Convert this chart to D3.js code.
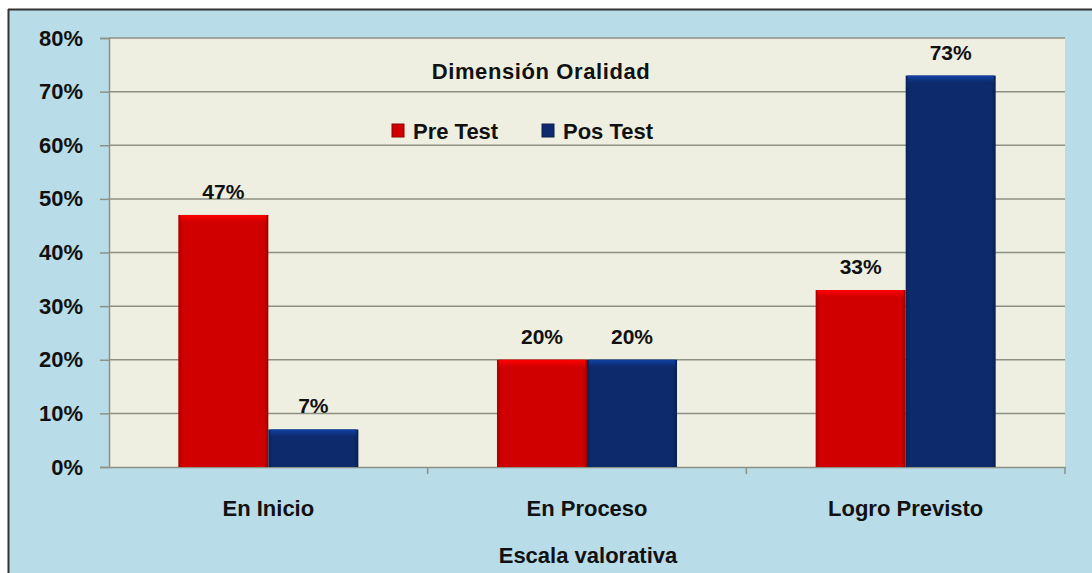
<!DOCTYPE html>
<html lang="es">
<head>
    <meta charset="UTF-8">
    <title>Dimensión Oralidad</title>
    <script src="https://d3js.org/d3.v7.min.js"></script>
    <style>
        body {
            margin: 0;
            background: #fff;
            font-family: 'Liberation Sans', Arial, sans-serif;
            overflow: hidden;
        }
        text { font-weight: bold; fill: #111; }
    </style>
</head>
<body>
    <script>
        const categories = ["En Inicio", "En Proceso", "Logro Previsto"];
        const series = ["Pre Test", "Pos Test"];
        const preTest = [0.47, 0.20, 0.33];
        const posTest = [0.07, 0.20, 0.73];
        const yTicks = [0, 0.1, 0.2, 0.3, 0.4, 0.5, 0.6, 0.7, 0.8];
        const colors = ["#d10000", "#0c2a6c"];

        const width = 1092;
        const height = 573;
        const plot = { left: 109, right: 1065, top: 38, bottom: 467 };
        const font = "'Liberation Sans', Arial, sans-serif";

        const svg = d3.select("body")
            .append("svg")
            .attr("width", width)
            .attr("height", height);

        const defs = svg.append("defs");
        colors.forEach((c, i) => {
            const g = defs.append("linearGradient")
                .attr("id", "top" + i)
                .attr("x1", 0).attr("y1", 0).attr("x2", 0).attr("y2", 1);
            g.append("stop").attr("offset", "0%").attr("stop-color", d3.color(c).brighter(1.2));
            g.append("stop").attr("offset", "100%").attr("stop-color", c);
            const s = defs.append("linearGradient")
                .attr("id", "side" + i)
                .attr("x1", 0).attr("y1", 0).attr("x2", 1).attr("y2", 0);
            s.append("stop").attr("offset", "0%").attr("stop-color", d3.color(c).darker(0.6));
            s.append("stop").attr("offset", "5%").attr("stop-color", c);
            s.append("stop").attr("offset", "95%").attr("stop-color", c);
            s.append("stop").attr("offset", "100%").attr("stop-color", d3.color(c).darker(0.8));
        });

        // outer background and frame
        svg.append("rect")
            .attr("x", 8).attr("y", 9)
            .attr("width", width - 8).attr("height", height - 9)
            .attr("fill", "#b9dce9");
        svg.append("line")
            .attr("x1", 8).attr("x2", width).attr("y1", 9.5).attr("y2", 9.5)
            .attr("stroke", "#333").attr("stroke-width", 2);
        svg.append("line")
            .attr("x1", 8.5).attr("x2", 8.5).attr("y1", 9).attr("y2", height)
            .attr("stroke", "#333").attr("stroke-width", 2);

        const x = d3.scaleBand()
            .domain(categories)
            .range([plot.left, plot.right])
            .padding(0);

        const xs = d3.scaleBand()
            .domain(series)
            .range([0, x.bandwidth()])
            .paddingInner(0)
            .paddingOuter(0.77);

        const y = d3.scaleLinear()
            .domain([0, 0.8])
            .range([plot.bottom, plot.top]);

        svg.append("rect")
            .attr("x", plot.left).attr("y", plot.top)
            .attr("width", plot.right - plot.left)
            .attr("height", plot.bottom - plot.top)
            .attr("fill", "#eeefe0");

        // gridlines
        svg.append("g")
            .selectAll("line")
            .data(yTicks.slice(1))
            .join("line")
            .attr("x1", plot.left).attr("x2", plot.right)
            .attr("y1", d => y(d)).attr("y2", d => y(d))
            .attr("stroke", "#8c9184").attr("stroke-width", 1.5);

        // y axis
        const yAxis = svg.append("g")
            .attr("transform", `translate(${plot.left},0)`)
            .call(d3.axisLeft(y).tickValues(yTicks).tickFormat(d3.format(".0%")).tickSize(9).tickPadding(17));
        yAxis.select(".domain").attr("stroke", "#8c9184").attr("stroke-width", 1.5);
        yAxis.selectAll(".tick line").attr("stroke", "#8c9184").attr("stroke-width", 1.5);
        yAxis.selectAll(".tick text")
            .style("font-size", "22px")
            .style("font-family", font)
            .attr("fill", "#111");

        // x axis
        const xAxis = svg.append("g")
            .attr("transform", `translate(0,${plot.bottom})`)
            .call(d3.axisBottom(x).tickSize(0).tickPadding(33));
        xAxis.select(".domain").attr("stroke", "#8c9184").attr("stroke-width", 1.5);
        xAxis.selectAll(".tick text")
            .style("font-size", "22px")
            .style("font-family", font)
            .attr("fill", "#111");
        svg.append("g")
            .selectAll("line")
            .data(categories)
            .join("line")
            .attr("x1", d => x(d) + x.bandwidth())
            .attr("x2", d => x(d) + x.bandwidth())
            .attr("y1", plot.bottom).attr("y2", plot.bottom + 7)
            .attr("stroke", "#8c9184").attr("stroke-width", 1.5);

        // bars
        const rows = categories.map((c, i) => ({ cat: c, values: [preTest[i], posTest[i]] }));
        const groups = svg.append("g")
            .selectAll("g")
            .data(rows)
            .join("g")
            .attr("transform", d => `translate(${x(d.cat)},0)`);

        const bars = groups.selectAll("g")
            .data(d => d.values.map((v, i) => ({ key: series[i], i, v })))
            .join("g");

        bars.append("rect")
            .attr("x", d => xs(d.key))
            .attr("y", d => y(d.v))
            .attr("width", xs.bandwidth())
            .attr("height", d => y(0) - y(d.v))
            .attr("fill", d => `url(#side${d.i})`);
        bars.append("rect")
            .attr("x", d => xs(d.key) + 2)
            .attr("y", d => y(d.v))
            .attr("width", xs.bandwidth() - 4)
            .attr("height", 7)
            .attr("fill", d => `url(#top${d.i})`);

        bars.append("text")
            .attr("x", d => xs(d.key) + xs.bandwidth() / 2)
            .attr("y", d => y(d.v) - 16)
            .attr("text-anchor", "middle")
            .style("font-size", "21px")
            .text(d => d3.format(".0%")(d.v));

        // title
        svg.append("text")
            .attr("x", 541).attr("y", 79)
            .attr("text-anchor", "middle")
            .style("font-size", "22px")
            .style("letter-spacing", "0.6px")
            .text("Dimensión Oralidad");

        // legend
        const legend = svg.append("g")
            .selectAll("g")
            .data(series)
            .join("g")
            .attr("transform", (d, i) => `translate(${392 + i * 150},124)`);
        legend.append("rect")
            .attr("width", 12).attr("height", 13)
            .attr("fill", (d, i) => colors[i])
            .attr("stroke", (d, i) => d3.color(colors[i]).darker(1))
            .attr("stroke-width", 1);
        legend.append("text")
            .attr("x", 21).attr("y", 15)
            .style("font-size", "22px")
            .text(d => d);

        // axis title
        svg.append("text")
            .attr("x", 588).attr("y", 563)
            .attr("text-anchor", "middle")
            .style("font-size", "22px")
            .text("Escala valorativa");
    </script>
</body>
</html>
